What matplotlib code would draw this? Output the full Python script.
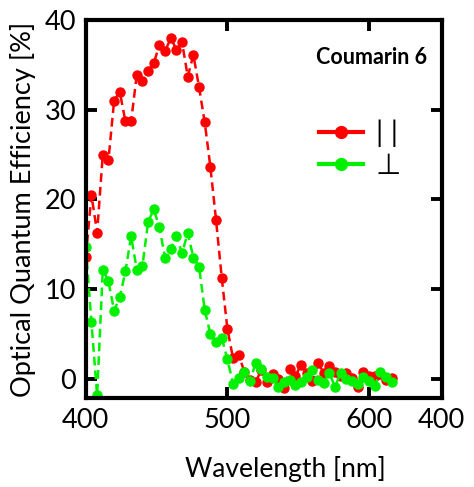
import matplotlib
matplotlib.use("Agg")
import matplotlib.pyplot as plt
from matplotlib.lines import Line2D

wavelength = [400 + 4 * i for i in range(55)]

parallel = [13.6, 20.5, 16.3, 25.0, 24.4, 31.0, 32.0, 28.7, 28.7, 33.9,
            33.2, 34.3, 35.2, 37.2, 36.5, 38.0, 36.7, 37.5, 33.7, 36.1,
            32.5, 28.6, 23.6, 17.7, 11.3, 5.6, 2.3, 2.7, 0.8, -0.1,
            -0.3, 1.0, -0.3, 0.6, 0.0, -1.0, 1.1, 0.3, 1.6, 0.7,
            -0.2, 1.8, 0.7, 1.4, 0.8, 0.3, 0.7, 0.1, -0.9, 0.8,
            0.3, 0.3, 0.6, -0.1, 0.1]

perpendicular = [14.7, 6.3, -1.8, 12.2, 10.9, 7.6, 9.1, 12.0, 15.9, 12.2,
                 12.6, 17.5, 18.9, 16.9, 13.5, 14.5, 15.9, 14.0, 16.3, 13.5,
                 12.5, 7.7, 5.0, 4.1, 4.6, 2.2, -0.5, 0.1, 0.8, -0.2,
                 1.8, 1.1, 0.2, 0.1, -0.9, -0.3, -0.1, -0.7, -0.3, 0.2,
                 1.0, -0.1, -0.4, 0.7, -0.9, 0.7, 0.0, -0.2, -0.6, 0.2,
                 -0.2, -0.8, 0.8, 0.2, -0.3]

xticks = [400, 500, 600, 651.4]
xticklabels = ["400", "500", "600", "400"]
yticks = [0, 10, 20, 30, 40]
series_labels = ["| |", "\u22a5"]

FONT = ["Lato", "DejaVu Sans"]
plt.rcParams["font.family"] = FONT

fig = plt.figure(figsize=(4.74, 4.87), dpi=100)
ax = fig.add_axes([0.181, 0.183, 0.751, 0.776])

red = "#ff0000"
green = "#00f000"
ax.plot(wavelength, parallel, color=red, ls=(0, (3.5, 2)), lw=1.8,
        marker="o", ms=6.5, mec=red, mfc=red)
ax.plot(wavelength, perpendicular, color=green, ls=(0, (3.5, 2)), lw=1.8,
        marker="o", ms=6.5, mec=green, mfc=green)

ax.set_xlim(400, 651.4)
ax.set_ylim(-2.1, 40)
ax.set_xticks(xticks)
ax.set_xticklabels(xticklabels)
ax.set_yticks(yticks)
ax.tick_params(direction="in", length=8, width=2.8, labelsize=19.5,
               top=True, right=True, pad=7)
for sp in ax.spines.values():
    sp.set_linewidth(3)

ax.set_xlabel("Wavelength [nm]", fontsize=19)
ax.xaxis.set_label_coords(0.56, -0.155)
ax.set_ylabel("Optical Quantum Efficiency [%]", fontsize=19.5, labelpad=6)

ax.text(0.96, 0.9, "Coumarin 6", transform=ax.transAxes, ha="right",
        va="center", fontsize=15.5, fontweight="bold")

handles = [Line2D([], [], color=red, lw=3, marker="o", ms=8.5),
           Line2D([], [], color=green, lw=3, marker="o", ms=8.5)]
ax.legend(handles, series_labels, loc="upper right",
          bbox_to_anchor=(0.96, 0.805), frameon=False, fontsize=21,
          handlelength=1.5, handletextpad=0.45, labelspacing=0.2)

fig.savefig("out.png", dpi=100)
